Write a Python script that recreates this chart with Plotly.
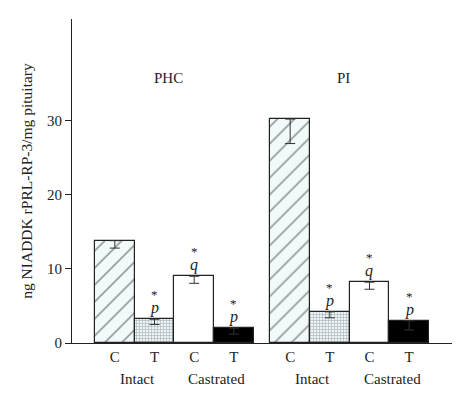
import plotly.graph_objects as go

regions = ["PHC", "PI"]
conditions = ["C", "T", "C", "T"]
groups = ["Intact", "Castrated"]
phc_values = [13.8, 3.2, 9.0, 2.0]
phc_err = [1.0, 0.7, 0.95, 0.8]
pi_values = [30.2, 4.2, 8.2, 3.0]
pi_err = [3.3, 0.8, 0.95, 1.25]
phc_sig = ["", "p", "q", "p"]
pi_sig = ["", "p", "q", "p"]

FONT = "Liberation Serif, Times New Roman, serif"
GROUP_STEP = 4.42

styles = [
    dict(color="white", pattern=dict(shape="/", size=12, solidity=0.12, fgcolor="#1a1a1a", bgcolor="#f2f9f9", fillmode="overlay")),
    dict(color="white", pattern=dict(shape="+", size=3, solidity=0.4, fgcolor="#6a7a80", bgcolor="#eef4f6", fillmode="overlay")),
    dict(color="white"),
    dict(color="black"),
]

fig = go.Figure()
all_vals = [phc_values, pi_values]
all_errs = [phc_err, pi_err]
all_sig = [phc_sig, pi_sig]
tickvals, ticktext = [], []
annotations = []
for g, region in enumerate(regions):
    for i in range(4):
        x = g * GROUP_STEP + i
        st = styles[i]
        marker = dict(color=st["color"], line=dict(color="#222", width=1.2))
        if "pattern" in st:
            marker["pattern"] = st["pattern"]
        fig.add_trace(go.Bar(
            x=[x], y=[all_vals[g][i]], width=[1.0], marker=marker,
            error_y=dict(type="data", symmetric=False, array=[0], arrayminus=[all_errs[g][i]],
                         color="#333", thickness=1, width=5),
            showlegend=False, hoverinfo="skip"))
        tickvals.append(x)
        ticktext.append(conditions[i])
        s = all_sig[g][i]
        if s:
            annotations.append(dict(x=x, y=all_vals[g][i], yanchor="bottom", yshift=0,
                                    text="<i>" + s + "</i>", showarrow=False,
                                    font=dict(family=FONT, size=16, color="#222")))
            annotations.append(dict(x=x, y=all_vals[g][i], yanchor="bottom", yshift=15,
                                    text="*", showarrow=False,
                                    font=dict(family=FONT, size=13, color="#222")))
    annotations.append(dict(x=g * GROUP_STEP + 1.5 - 0.15, y=35.7, text=region, showarrow=False,
                            font=dict(family=FONT, size=15, color="#222")))
    for k, grp in enumerate(groups):
        annotations.append(dict(x=g * GROUP_STEP + 2 * k + 0.57, y=0, yref="y", yshift=-36,
                                text=grp, showarrow=False,
                                font=dict(family=FONT, size=15, color="#222")))

fig.update_layout(
    width=462, height=389,
    margin=dict(l=64, r=18, t=11, b=54, autoexpand=False),
    plot_bgcolor="white", paper_bgcolor="white",
    bargap=0,
    annotations=annotations,
    font=dict(family=FONT, size=15, color="#222"),
)
fig.update_xaxes(range=[-1.08, 8.5], tickvals=tickvals, ticktext=ticktext,
                 showline=True, linecolor="#222", linewidth=1.2, ticks="",
                 showgrid=False, zeroline=False, automargin=False,
                 tickfont=dict(family=FONT, size=15, color="#222"))
fig.update_yaxes(range=[0, 43.7], tickvals=[0, 10, 20, 30],
                 showline=True, linecolor="#222", linewidth=1.2,
                 ticks="outside", ticklen=6, tickcolor="#222",
                 showgrid=False, zeroline=False, automargin=False,
                 tickfont=dict(family=FONT, size=15, color="#222"),
                 title=dict(text="ng NIADDK rPRL-RP-3/mg pituitary", standoff=10,
                            font=dict(family=FONT, size=15.5, color="#222")))

fig.write_html("out.html")
